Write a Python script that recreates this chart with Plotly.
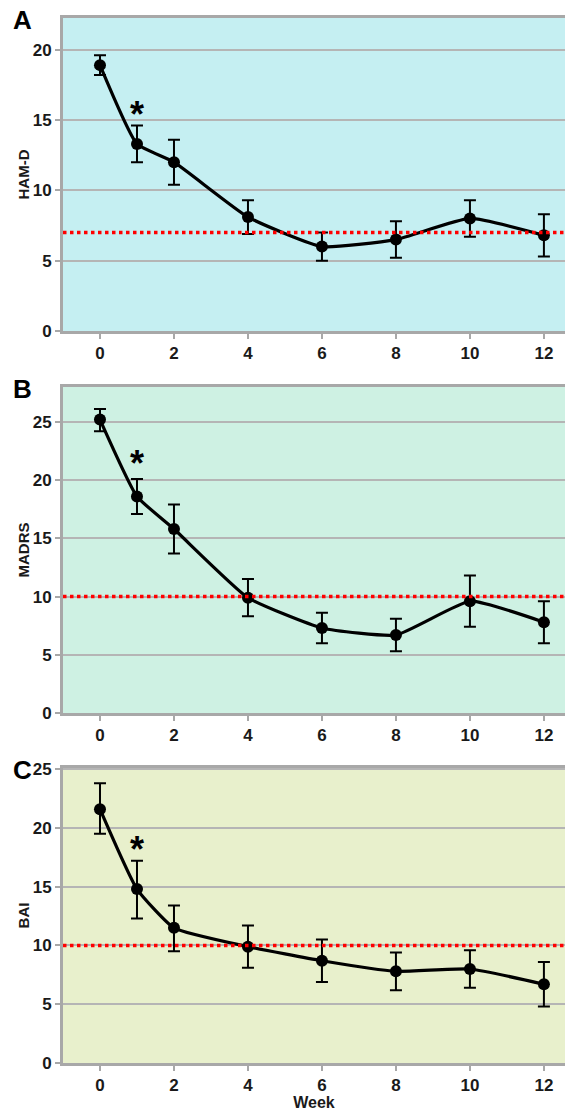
import plotly.graph_objects as go

weeks = [0, 1, 2, 4, 6, 8, 10, 12]
x_ticks = [0, 2, 4, 6, 8, 10, 12]

hamd_mean = [18.9, 13.3, 12.0, 8.1, 6.0, 6.5, 8.0, 6.8]
hamd_hi = [19.6, 14.6, 13.6, 9.3, 7.0, 7.8, 9.3, 8.3]
hamd_lo = [18.2, 12.0, 10.4, 6.9, 5.0, 5.2, 6.7, 5.3]

madrs_mean = [25.2, 18.6, 15.8, 9.9, 7.3, 6.7, 9.6, 7.8]
madrs_hi = [26.1, 20.1, 17.9, 11.5, 8.6, 8.1, 11.8, 9.6]
madrs_lo = [24.2, 17.1, 13.7, 8.3, 6.0, 5.3, 7.4, 6.0]

bai_mean = [21.6, 14.8, 11.5, 9.9, 8.7, 7.8, 8.0, 6.7]
bai_hi = [23.8, 17.2, 13.4, 11.7, 10.5, 9.4, 9.6, 8.6]
bai_lo = [19.5, 12.3, 9.5, 8.1, 6.9, 6.2, 6.4, 4.8]

thresholds = [7, 10, 10]
star_y = [15.4, 21.4, 18.2]
titles = ["HAM-D", "MADRS", "BAI"]
letters = ["A", "B", "C"]
y_ticks = [[0, 5, 10, 15, 20], [0, 5, 10, 15, 20, 25], [0, 5, 10, 15, 20, 25]]
y_ranges = [[0, 22.25], [0, 28], [0, 25.1]]

W, H = 565, 1111
ML = 63
bgs = ["#C5EFF2", "#CEF1E3", "#E8F0CC"]
dom_px = [(18, 331), (387, 713), (768, 1063)]

FONT = "Arial, Liberation Sans, sans-serif"
fig = go.Figure()

series = [(hamd_mean, hamd_hi, hamd_lo), (madrs_mean, madrs_hi, madrs_lo), (bai_mean, bai_hi, bai_lo)]
for i, (m, hi, lo) in enumerate(series):
    sfx = "" if i == 0 else str(i + 1)
    fig.add_trace(go.Scatter(
        x=weeks, y=m, mode="lines+markers",
        xaxis="x" + sfx, yaxis="y" + sfx,
        line=dict(color="black", width=3.2, shape="spline", smoothing=0.45),
        marker=dict(color="black", size=12),
        error_y=dict(type="data", symmetric=False,
                     array=[h - v for h, v in zip(hi, m)],
                     arrayminus=[v - l for v, l in zip(m, lo)],
                     color="black", thickness=2, width=6),
        showlegend=False, hoverinfo="skip",
    ))
    top, bot = dom_px[i]
    dom = [1 - bot / H, 1 - top / H]
    ax = dict(
        domain=[0, 1], range=[-1, 12.57], tickvals=x_ticks,
        showgrid=False, zeroline=False,
        showline=True, linecolor="#A8A8A8", linewidth=3, mirror=True,
        ticks="outside", tickcolor="#A8A8A8", ticklen=5, tickwidth=2,
        tickfont=dict(family=FONT, size=17, color="#1a1a1a", weight="bold"),
        anchor="y" + sfx,
    )
    if i == 2:
        ax["title"] = dict(text="Week", font=dict(family=FONT, size=16, color="#1a1a1a", weight="bold"), standoff=0)
    ay = dict(
        domain=dom, range=y_ranges[i], tickvals=y_ticks[i],
        showgrid=True, gridcolor="#B5B5B5", gridwidth=2,
        zeroline=False,
        showline=True, linecolor="#A8A8A8", linewidth=3,
        ticks="outside", tickcolor="#A8A8A8", ticklen=5, tickwidth=2,
        tickfont=dict(family=FONT, size=17, color="#1a1a1a", weight="bold"),
        title=dict(text=titles[i], font=dict(family=FONT, size=15, color="#1a1a1a", weight="bold"), standoff=0),
        anchor="x" + sfx,
    )
    fig.layout["xaxis" + sfx] = ax
    fig.layout["yaxis" + sfx] = ay
    fig.add_shape(type="rect", xref="x" + sfx + " domain", yref="y" + sfx + " domain",
                  x0=0, x1=1, y0=0, y1=1, fillcolor=bgs[i], line_width=0, layer="below")
    fig.add_shape(type="line", xref="x" + sfx + " domain", yref="y" + sfx,
                  x0=0, x1=1, y0=thresholds[i], y1=thresholds[i],
                  line=dict(color="#FF0000", width=3.5, dash="dot"), layer="above")
    fig.add_annotation(x=weeks[1], y=star_y[i], xref="x" + sfx, yref="y" + sfx,
                       text="*", showarrow=False,
                       font=dict(family=FONT, size=36, color="black", weight="bold"))
    fig.add_annotation(x=(22 - ML) / (W - ML), y=1 - (top + 2) / H, xref="paper", yref="paper",
                       text=letters[i], showarrow=False, xanchor="center", yanchor="middle",
                       font=dict(family=FONT, size=26, color="black", weight="bold"))

fig.update_layout(
    width=W, height=H,
    margin=dict(l=ML, r=0, t=0, b=0, autoexpand=False),
    paper_bgcolor="white", plot_bgcolor="rgba(0,0,0,0)",
)
fig.write_html("out.html", config={"displayModeBar": False},
               post_script="document.body.style.margin='0';document.body.style.overflow='hidden';")
